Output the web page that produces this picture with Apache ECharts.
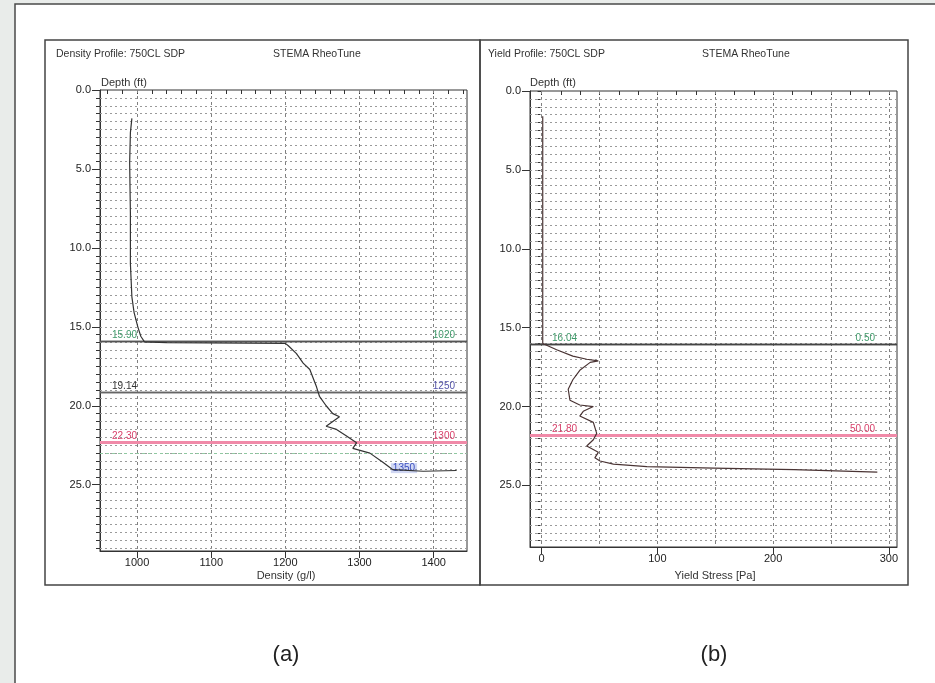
<!DOCTYPE html>
<html><head><meta charset="utf-8">
<script src="https://cdn.jsdelivr.net/npm/echarts@6/dist/echarts.min.js"></script>
<style>html,body{margin:0;padding:0;background:#fff}#c{width:935px;height:683px}</style>
</head><body><div id="c"></div>
<script>
// ---------- data ----------
const densityDepth = [1.8, 2.7, 4.6, 7.8, 11.0, 13.1, 14.1, 15.0, 15.6, 15.95, 16.0, 16.05, 16.2, 16.7, 17.3, 17.7, 18.8, 19.4, 20.0, 20.5, 20.7, 21.0, 21.3, 21.5, 21.9, 22.35, 22.7, 23.0, 23.6, 24.05, 24.15, 24.1];
const densityValue = [993, 991, 990, 991, 991, 993, 996, 1001, 1005, 1010, 1040, 1200, 1204, 1215, 1224, 1233, 1242, 1246, 1255, 1264, 1273, 1264, 1255, 1269, 1282, 1296, 1291, 1314, 1332, 1345, 1386, 1431];

const yieldDepth = [1.6, 5, 10, 15, 16.0, 16.4, 16.8, 17.0, 17.1, 17.2, 17.7, 18.3, 18.9, 19.6, 19.9, 20.0, 20.3, 20.6, 21.0, 21.7, 22.1, 22.5, 22.9, 23.25, 23.45, 23.65, 23.8, 23.9, 24.0, 24.15];
const yieldValue = [1, 1, 1, 1, 1, 13, 27, 39, 49, 42, 33, 27, 23, 24.5, 33, 44.7, 36, 33, 44.7, 47.6, 44.7, 39, 49, 46, 50.5, 62, 91, 149, 218, 290];

// reference lines (depth, left label, right label)
const densityRefDepth = [15.90, 19.14, 22.30, 23.0];
const densityRefLeft  = ['15.90', '19.14', '22.30', null];
const densityRefRight = ['1020', '1250', '1300', null];
const densityTagValue = [1360];
const densityTagDepth = [23.95];
const densityTagText  = ['1350'];

const yieldRefDepth = [16.04, 21.80];
const yieldRefLeft  = ['16.04', '21.80'];
const yieldRefRight = ['0.50', '50.00'];

// ticks
const depthMajor   = [0, 5, 10, 15, 20, 25];
const densityMajor = [1000, 1100, 1200, 1300, 1400];
const yieldMajor   = [0, 100, 200, 300];
const yieldGridX   = [0, 50, 100, 150, 200, 250, 300];

function seq(a, b, s) { const r = []; for (let v = a; v <= b + 1e-9; v += s) r.push(+v.toFixed(3)); return r; }
const depthMinor   = seq(0, 29, 0.5);
const depthGridA   = seq(0.5, 29, 0.5);
const depthGridB   = seq(0.5, 28.5, 0.5);
const densityMinor = seq(960, 1440, 20);
const yieldMinor   = seq(0, 300, 100 / 6);

// ---------- styles ----------
const FONT = '"Liberation Sans", Arial, sans-serif';
const refStyleA = [
  {line: '#555', width: 1.3, type: 'solid', lc: '#3f9a6a', rc: '#3f9a6a'},
  {line: '#666', width: 1.3, type: 'solid', lc: '#333',    rc: '#5555aa'},
  {line: '#f08aa8', width: 3, type: 'solid', lc: '#d8406a', rc: '#d8406a'},
  {line: '#8fc8a0', width: 1, type: [3, 3], lc: '#3f9a6a', rc: '#3f9a6a'}
];
const refStyleB = [
  {line: '#444', width: 1.3, type: 'solid', lc: '#3f9a6a', rc: '#3f9a6a'},
  {line: '#f08aa8', width: 3, type: 'solid', lc: '#d8406a', rc: '#d8406a'}
];

function refLines(depths, lefts, rights, styles, dl, dr) {
  const out = [];
  depths.forEach((d, i) => {
    const s = styles[i];
    const ls = {color: s.line, width: s.width, type: s.type};
    out.push({yAxis: d, lineStyle: ls,
      label: {show: lefts[i] != null, position: 'insideStartTop', formatter: lefts[i] || '', color: s.lc,
        fontSize: 10, fontFamily: FONT, distance: [dl, 1]}});
    if (rights[i] != null) {
      out.push({yAxis: d + 1e-6, lineStyle: ls,
        label: {show: true, position: 'insideEndTop', formatter: rights[i], color: s.rc,
          fontSize: 10, fontFamily: FONT, distance: [dr, 1]}});
    }
  });
  return out;
}

function gridLines(xs, ys) {
  return [
    ...xs.map(v => ({xAxis: v, lineStyle: {type: [3, 3], color: '#808080', width: 1}})),
    ...ys.map(v => ({yAxis: v, lineStyle: {type: [2, 3], color: '#9a9a9a', width: 1}}))
  ];
}

const lblStyle = {fontFamily: FONT, fontSize: 11, color: '#222'};

function xMain(gi, min, max, ticks) {
  return {gridIndex: gi, type: 'value', min: min, max: max, position: 'bottom',
    axisLine: {show: true, onZero: false, lineStyle: {color: '#333'}},
    axisTick: {show: true, customValues: ticks, length: 7, lineStyle: {color: '#333'}},
    axisLabel: Object.assign({customValues: ticks, margin: 6, formatter: v => String(v)}, lblStyle),
    splitLine: {show: false}};
}
function xMinor(gi, min, max, ticks) {
  return {gridIndex: gi, type: 'value', min: min, max: max, position: 'bottom',
    axisLine: {show: false}, axisTick: {show: true, customValues: ticks, length: 4, lineStyle: {color: '#333'}},
    axisLabel: {show: false}, splitLine: {show: false}};
}
function yMain(gi, max) {
  return {gridIndex: gi, type: 'value', inverse: true, min: 0, max: max, position: 'left',
    axisLine: {show: true, onZero: false, lineStyle: {color: '#333'}},
    axisTick: {show: true, customValues: depthMajor, length: 8, lineStyle: {color: '#333'}},
    axisLabel: Object.assign({customValues: depthMajor, margin: 9, formatter: v => v.toFixed(1)}, lblStyle),
    splitLine: {show: false}};
}
function yMinor(gi, max) {
  return {gridIndex: gi, type: 'value', inverse: true, min: 0, max: max, position: 'left',
    axisLine: {show: false}, axisTick: {show: true, customValues: depthMinor.filter(v => v <= max), length: 4, lineStyle: {color: '#333'}},
    axisLabel: {show: false}, splitLine: {show: false}};
}

const txt = (t, x, y, size, align, color) => ({type: 'text', x: x, y: y, z: 50,
  style: {text: t, fill: color || '#333', font: size + 'px ' + FONT, align: align || 'left', verticalAlign: 'middle'}});

const chart = echarts.init(document.getElementById('c'), null, {renderer: 'canvas'});
chart.setOption({
  animation: false,
  backgroundColor: '#ffffff',
  graphic: [
    {type: 'rect', z: -100, shape: {x: 0, y: 0, width: 935, height: 683}, style: {fill: '#e9ecea'}},
    {type: 'rect', z: -99, shape: {x: 15, y: 4, width: 925, height: 690}, style: {fill: '#ffffff', stroke: '#4a4a4a', lineWidth: 1.5}},
    {type: 'rect', z: -98, shape: {x: 45, y: 40, width: 435, height: 545}, style: {fill: 'none', stroke: '#444', lineWidth: 1.5}},
    {type: 'rect', z: -98, shape: {x: 480, y: 40, width: 428, height: 545}, style: {fill: 'none', stroke: '#444', lineWidth: 1.5}},
    txt('Density Profile: 750CL SDP', 56, 54, 10.5),
    txt('STEMA RheoTune', 273, 54, 10.5),
    txt('Yield Profile: 750CL SDP', 488, 54, 10.5),
    txt('STEMA RheoTune', 702, 54, 10.5),
    txt('Depth (ft)', 101, 83, 11),
    txt('Depth (ft)', 530, 83, 11),
    txt('Density (g/l)', 286, 576, 11, 'center'),
    txt('Yield Stress [Pa]', 715, 576, 11, 'center'),
    txt('(a)', 286, 655, 22, 'center', '#222'),
    txt('(b)', 714, 655, 22, 'center', '#222')
  ],
  grid: [
    {left: 100, top: 90, width: 367, height: 461, show: true, borderColor: '#333', borderWidth: 1, backgroundColor: '#fff'},
    {left: 530, top: 91, width: 367, height: 456, show: true, borderColor: '#333', borderWidth: 1, backgroundColor: '#fff'}
  ],
  xAxis: [
    xMain(0, 950, 1445, densityMajor), xMinor(0, 950, 1445, densityMinor),
    xMain(1, -10, 307, yieldMajor), xMinor(1, -10, 307, yieldMinor)
  ],
  yAxis: [
    yMain(0, 29.2), yMinor(0, 29.2),
    yMain(1, 28.9), yMinor(1, 28.9)
  ],
  series: [
    {type: 'line', xAxisIndex: 0, yAxisIndex: 0, data: [], silent: true, z: 1,
      markLine: {silent: true, z: 1, symbol: ['none', 'none'], animation: false, label: {show: false},
        data: gridLines(densityMajor, depthGridA)}},
    {type: 'line', xAxisIndex: 2, yAxisIndex: 2, data: [], silent: true, z: 1,
      markLine: {silent: true, z: 1, symbol: ['none', 'none'], animation: false, label: {show: false},
        data: gridLines(yieldGridX, depthGridB)}},
    {type: 'line', xAxisIndex: 0, yAxisIndex: 0, data: [], silent: true, z: 3,
      markLine: {silent: true, z: 3, symbol: ['none', 'none'], animation: false,
        data: refLines(densityRefDepth, densityRefLeft, densityRefRight, refStyleA, 12, 12)},
      markPoint: {silent: true, symbol: 'rect', symbolSize: [1, 1], itemStyle: {color: 'rgba(0,0,0,0)'},
        data: densityTagValue.map((v, i) => ({coord: [v, densityTagDepth[i]],
          label: {show: true, formatter: densityTagText[i], color: '#3a4fc0', fontSize: 10, fontFamily: FONT, backgroundColor: 'rgba(120,140,220,0.35)', padding: [0, 2]}}))}},
    {type: 'line', xAxisIndex: 2, yAxisIndex: 2, data: [], silent: true, z: 3,
      markLine: {silent: true, z: 3, symbol: ['none', 'none'], animation: false,
        data: refLines(yieldRefDepth, yieldRefLeft, yieldRefRight, refStyleB, 22, 22)}},
    {type: 'line', name: 'Density', xAxisIndex: 0, yAxisIndex: 0, z: 10, showSymbol: false, symbol: 'none',
      lineStyle: {color: '#333', width: 1.2},
      data: densityValue.map((v, i) => [v, densityDepth[i]])},
    {type: 'line', name: 'Yield', xAxisIndex: 2, yAxisIndex: 2, z: 10, showSymbol: false, symbol: 'none',
      lineStyle: {color: '#4a3434', width: 1.2},
      data: yieldValue.map((v, i) => [v, yieldDepth[i]])}
  ]
});
</script></body></html>
